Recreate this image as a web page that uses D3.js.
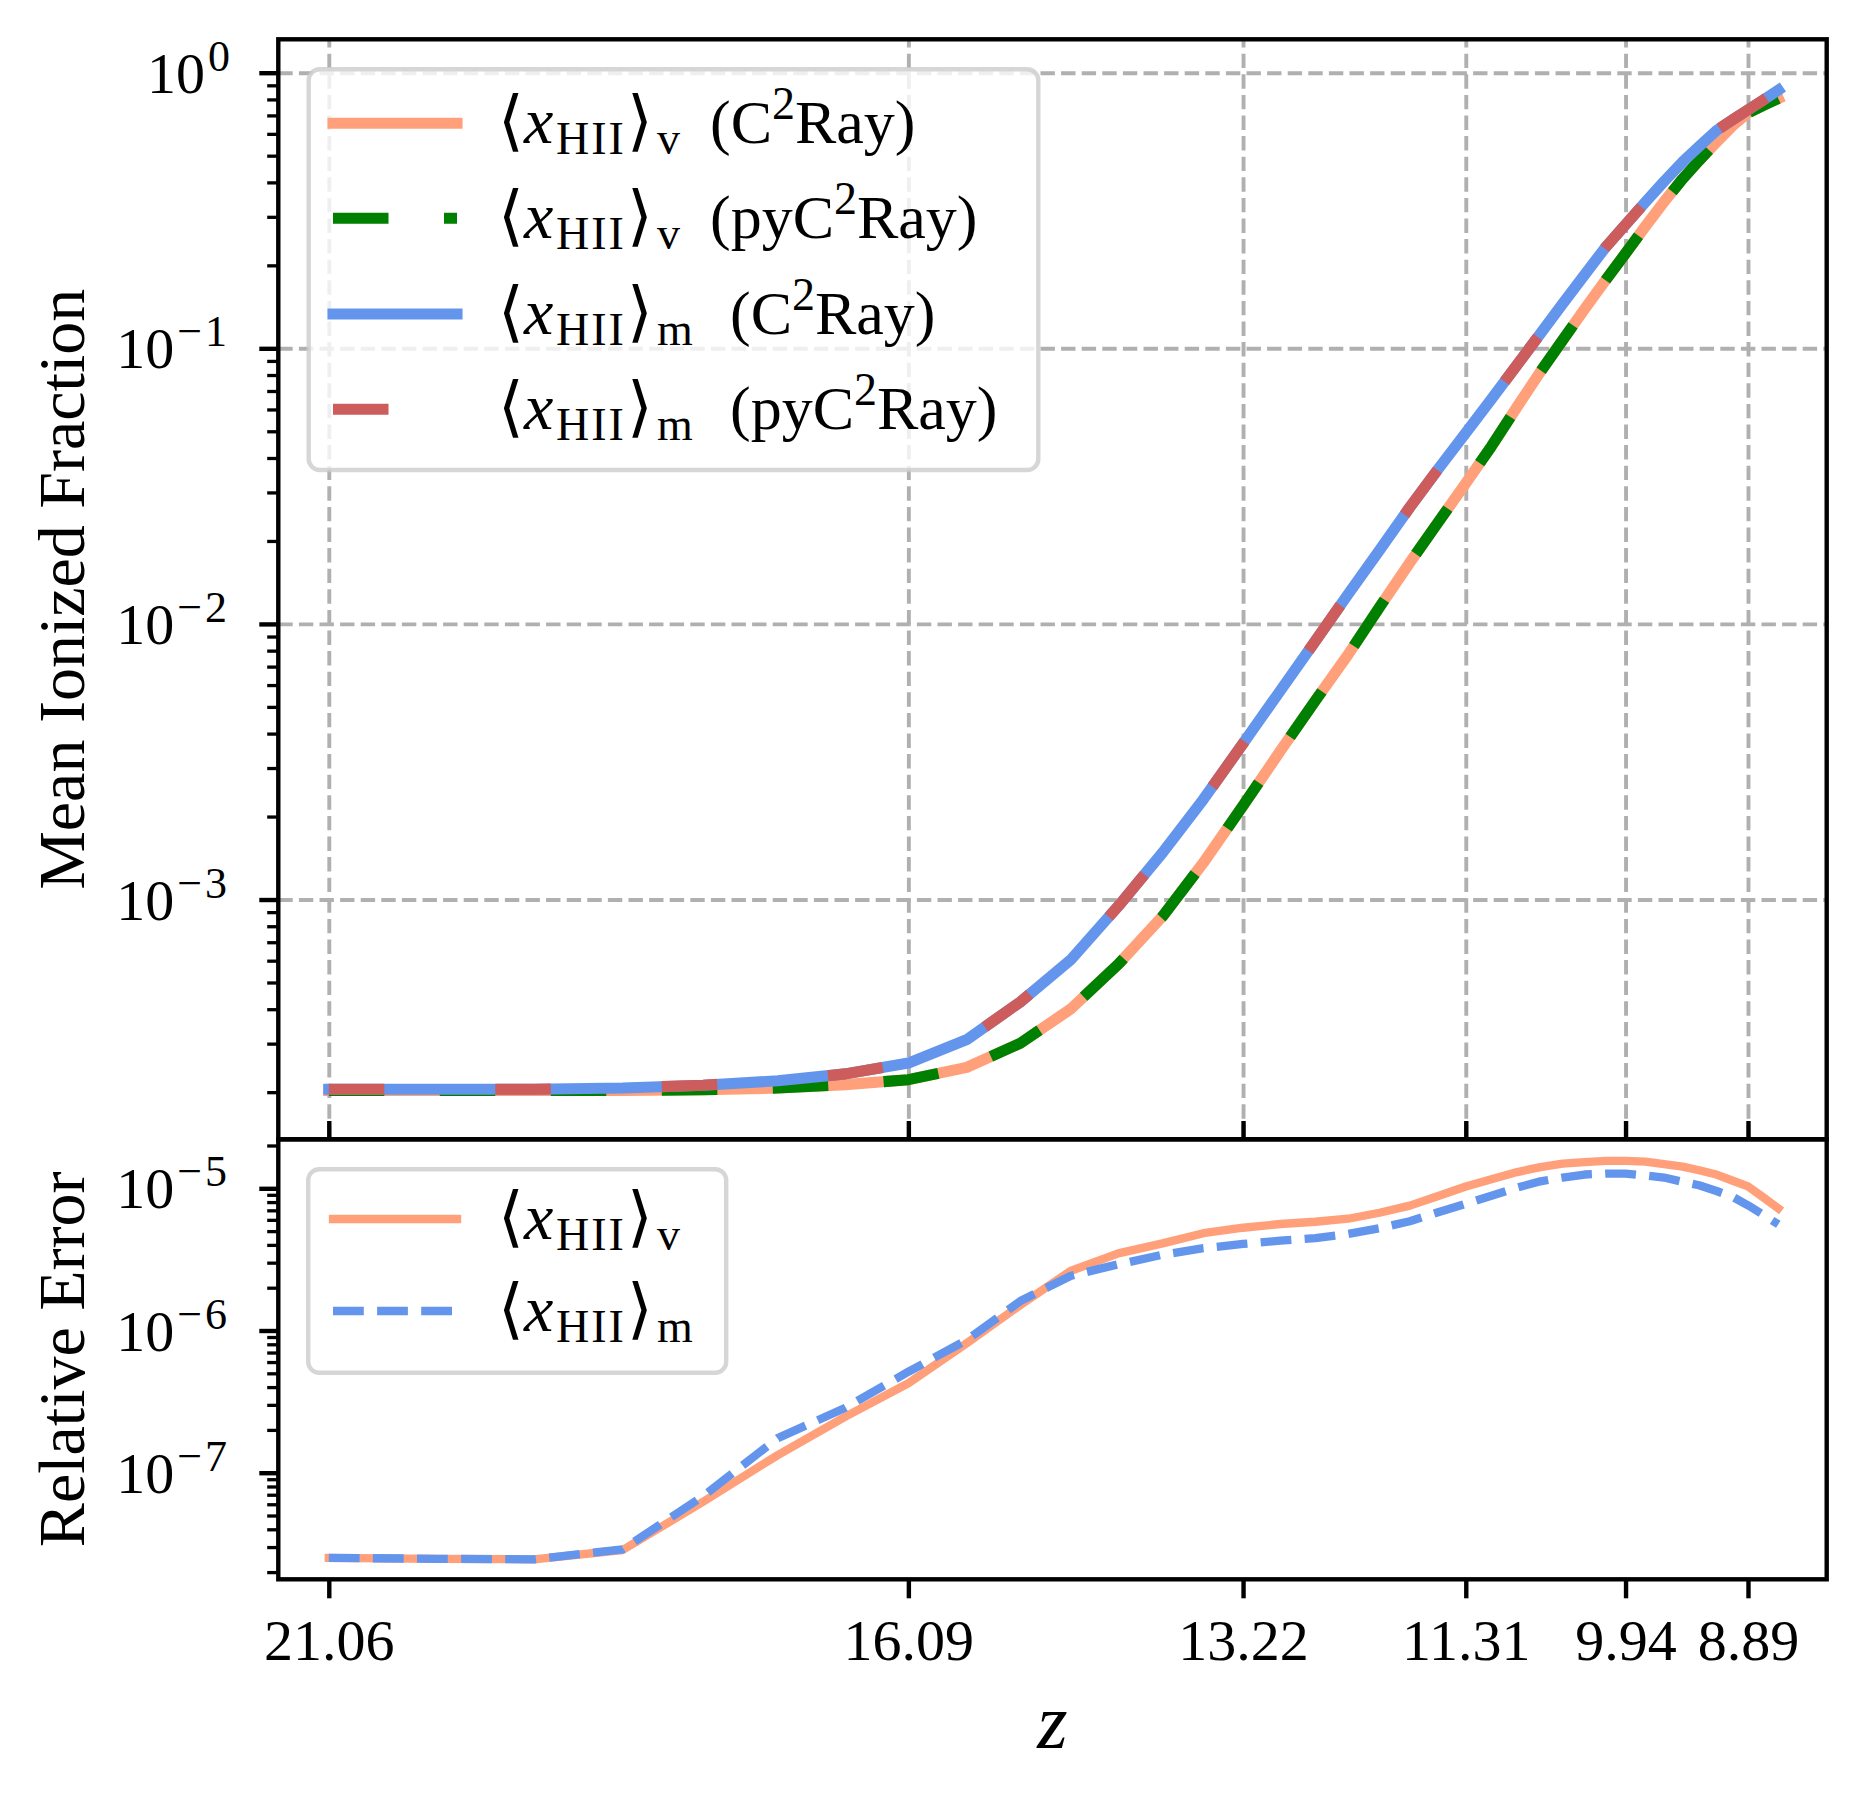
<!DOCTYPE html>
<html>
<head>
<meta charset="utf-8">
<script src="https://cdn.jsdelivr.net/npm/d3@7"></script>
<style>
	body { margin: 0; background: #fff; }
	text { font-family: "Liberation Serif", "DejaVu Serif", serif; fill: #000; white-space: pre; }
</style>
</head>
<body>
<svg id="chart" width="1868" height="1804"></svg>
<script>
// snapshot redshifts
const redshift = [21.06, 20.13, 19.30, 18.54, 17.85, 17.21, 16.63, 16.09, 15.59, 15.13,
	14.70, 14.29, 13.91, 13.56, 13.22, 12.90, 12.60, 12.32, 12.05, 11.79,
	11.54, 11.31, 11.09, 10.87, 10.67, 10.48, 10.29, 10.11, 9.94, 9.77,
	9.61, 9.45, 9.31, 9.16, 9.02, 8.89, 8.76, 8.63];

// volume weighted mean ionized fraction
const xvC2Ray = [2.03e-4, 2.03e-4, 2.03e-4, 2.03e-4, 2.04e-4, 2.07e-4, 2.13e-4, 2.22e-4, 2.46e-4, 3.01e-4,
	4.00e-4, 5.82e-4, 8.69e-4, 1.36e-3, 2.19e-3, 3.46e-3, 5.27e-3, 7.73e-3, 1.15e-2, 1.67e-2,
	2.36e-2, 3.24e-2, 4.41e-2, 6.13e-2, 8.22e-2, 0.107, 0.139, 0.177, 0.221, 0.277,
	0.340, 0.412, 0.480, 0.560, 0.643, 0.715, 0.761, 0.806];
const xvPyC2Ray = [2.03e-4, 2.03e-4, 2.03e-4, 2.03e-4, 2.04e-4, 2.07e-4, 2.13e-4, 2.22e-4, 2.46e-4, 3.01e-4,
	4.00e-4, 5.82e-4, 8.69e-4, 1.36e-3, 2.19e-3, 3.46e-3, 5.27e-3, 7.73e-3, 1.15e-2, 1.67e-2,
	2.36e-2, 3.24e-2, 4.41e-2, 6.13e-2, 8.22e-2, 0.107, 0.139, 0.177, 0.221, 0.277,
	0.340, 0.412, 0.480, 0.560, 0.643, 0.715, 0.761, 0.806];

// mass weighted mean ionized fraction
const xmC2Ray = [2.05e-4, 2.05e-4, 2.05e-4, 2.07e-4, 2.12e-4, 2.20e-4, 2.33e-4, 2.55e-4, 3.10e-4, 4.25e-4,
	6.03e-4, 9.46e-4, 1.48e-3, 2.31e-3, 3.68e-3, 5.73e-3, 8.67e-3, 1.28e-2, 1.85e-2, 2.65e-2,
	3.68e-2, 4.93e-2, 6.54e-2, 8.71e-2, 0.113, 0.145, 0.185, 0.233, 0.281, 0.339,
	0.403, 0.475, 0.540, 0.617, 0.676, 0.733, 0.795, 0.865];
const xmPyC2Ray = [2.05e-4, 2.05e-4, 2.05e-4, 2.07e-4, 2.12e-4, 2.20e-4, 2.33e-4, 2.55e-4, 3.10e-4, 4.25e-4,
	6.03e-4, 9.46e-4, 1.48e-3, 2.31e-3, 3.68e-3, 5.73e-3, 8.67e-3, 1.28e-2, 1.85e-2, 2.65e-2,
	3.68e-2, 4.93e-2, 6.54e-2, 8.71e-2, 0.113, 0.145, 0.185, 0.233, 0.281, 0.339,
	0.403, 0.475, 0.540, 0.617, 0.676, 0.733, 0.795, 0.865];

// relative error between the two codes
const relErrV = [2.52e-8, 2.48e-8, 2.46e-8, 2.86e-8, 6.25e-8, 1.33e-7, 2.48e-7, 4.26e-7, 8.13e-7, 1.51e-6,
	2.62e-6, 3.49e-6, 4.10e-6, 4.83e-6, 5.28e-6, 5.61e-6, 5.82e-6, 6.11e-6, 6.73e-6, 7.55e-6,
	8.87e-6, 1.03e-5, 1.16e-5, 1.30e-5, 1.41e-5, 1.49e-5, 1.53e-5, 1.56e-5, 1.56e-5, 1.54e-5,
	1.48e-5, 1.42e-5, 1.34e-5, 1.25e-5, 1.13e-5, 1.03e-5, 8.65e-6, 7.23e-6];
const relErrM = [2.52e-8, 2.48e-8, 2.46e-8, 2.89e-8, 6.85e-8, 1.75e-7, 2.86e-7, 5.13e-7, 8.57e-7, 1.61e-6,
	2.42e-6, 2.92e-6, 3.41e-6, 3.79e-6, 4.06e-6, 4.28e-6, 4.47e-6, 4.77e-6, 5.24e-6, 5.87e-6,
	6.81e-6, 7.79e-6, 8.87e-6, 1.01e-5, 1.12e-5, 1.19e-5, 1.25e-5, 1.27e-5, 1.27e-5, 1.23e-5,
	1.19e-5, 1.11e-5, 1.05e-5, 9.57e-6, 8.69e-6, 7.59e-6, 6.52e-6, 5.58e-6];

const zTicks		= [21.06, 16.09, 13.22, 11.31, 9.94, 8.89];
const topTicks		= [1e0, 1e-1, 1e-2, 1e-3];
const topTickExp	= ['0', '\u22121', '\u22122', '\u22123'];
const botTicks		= [1e-5, 1e-6, 1e-7];
const botTickExp	= ['\u22125', '\u22126', '\u22127'];

// layout
let pLeft = 278.3, pRight = 1826.7;
let pTop = 39.3, pMid = 1139.3, pBottom = 1579.3;
let fs = 58, fsSup = 44;
let fsLeg = 62, fsLegSmall = 46;

let svg = d3.select('#chart');

let x		= d3.scaleLinear().domain([21.493, 8.215]).range([pLeft, pRight]);
let yTop	= d3.scaleLog().domain([1.349e-4, 1.322]).range([pMid, pTop]);
let yBot	= d3.scaleLog().domain([1.78e-8, 2.211e-5]).range([pBottom, pMid]);

function minorTicks(scale) {
	let [lo, hi] = scale.domain();
	let out = [];
	for (let e = Math.floor(Math.log10(lo)); e <= Math.ceil(Math.log10(hi)); e++) {
		for (let k = 2; k <= 9; k++) {
			let v = k * Math.pow(10, e);
			if (v >= lo && v <= hi) out.push(v);
		}
	}
	return out;
}

function styleAxis(g, width, dash, color) {
	g.select('.domain').remove();
	g.selectAll('.tick line').attr('stroke', color || '#000').attr('stroke-width', width)
		.attr('stroke-dasharray', dash || null);
	g.selectAll('.tick text').remove();
}

// grid (top panel only)
svg.append('g').attr('transform', 'translate(0,' + pMid + ')')
	.call(d3.axisBottom(x).tickValues(zTicks).tickSize(-(pMid - pTop)).tickFormat(''))
	.call(styleAxis, 3.9, '14.4,6.2', '#b0b0b0');
svg.append('g').attr('transform', 'translate(' + pLeft + ',0)')
	.call(d3.axisLeft(yTop).tickValues(topTicks).tickSize(-(pRight - pLeft)).tickFormat(''))
	.call(styleAxis, 3.9, '14.4,6.2', '#b0b0b0');

// clip paths
let defs = svg.append('defs');
defs.append('clipPath').attr('id', 'clip-top').append('rect')
	.attr('x', pLeft).attr('y', pTop).attr('width', pRight - pLeft).attr('height', pMid - pTop);
defs.append('clipPath').attr('id', 'clip-bot').append('rect')
	.attr('x', pLeft).attr('y', pMid).attr('width', pRight - pLeft).attr('height', pBottom - pMid);

let lineTop = d3.line().x((o) => x(o[0])).y((o) => yTop(o[1]));
let lineBot = d3.line().x((o) => x(o[0])).y((o) => yBot(o[1]));

let topSeries = [
	{ data: xvC2Ray,	color: '#FFA07A', dash: null },
	{ data: xvPyC2Ray,	color: '#008000', dash: '55.5,55.5' },
	{ data: xmC2Ray,	color: '#6495ED', dash: null },
	{ data: xmPyC2Ray,	color: '#CD5C5C', dash: '55.5,111' }
];
let botSeries = [
	{ data: relErrV,	color: '#FFA07A', dash: null },
	{ data: relErrM,	color: '#6495ED', dash: '30.8,13.3' }
];

let topLines = svg.append('g').attr('clip-path', 'url(#clip-top)');
topSeries.forEach((s) => {
	topLines.append('path')
		.attr('d', lineTop(d3.zip(redshift, s.data)))
		.attr('fill', 'none')
		.attr('stroke', s.color)
		.attr('stroke-width', 11.1)
		.attr('stroke-linejoin', 'round')
		.attr('stroke-linecap', s.dash ? 'butt' : 'square')
		.attr('stroke-dasharray', s.dash);
});

let botLines = svg.append('g').attr('clip-path', 'url(#clip-bot)');
botSeries.forEach((s) => {
	botLines.append('path')
		.attr('d', lineBot(d3.zip(redshift, s.data)))
		.attr('fill', 'none')
		.attr('stroke', s.color)
		.attr('stroke-width', 8.33)
		.attr('stroke-linejoin', 'round')
		.attr('stroke-linecap', s.dash ? 'butt' : 'square')
		.attr('stroke-dasharray', s.dash);
});

// spines
[[pTop, pMid], [pMid, pBottom]].forEach(([a, b]) => {
	svg.append('rect')
		.attr('x', pLeft).attr('y', a)
		.attr('width', pRight - pLeft).attr('height', b - a)
		.attr('fill', 'none').attr('stroke', '#000').attr('stroke-width', 4.4);
});

// x ticks
svg.append('g').attr('transform', 'translate(0,' + pMid + ')')
	.call(d3.axisTop(x).tickValues(zTicks).tickSize(18.3).tickFormat(''))
	.call(styleAxis, 4.4);
let xAxis = svg.append('g').attr('transform', 'translate(0,' + pBottom + ')')
	.call(d3.axisBottom(x).tickValues(zTicks).tickSize(19).tickFormat(d3.format('.2f')));
xAxis.select('.domain').remove();
xAxis.selectAll('.tick line').attr('stroke', '#000').attr('stroke-width', 4.4);
xAxis.selectAll('.tick text')
	.attr('y', 80.7).attr('dy', null)
	.attr('font-size', fs)
	.attr('font-family', '"Liberation Serif", serif')
	.attr('fill', '#000');

// y ticks
function yTicks(scale, major, exps) {
	svg.append('g').attr('transform', 'translate(' + pLeft + ',0)')
		.call(d3.axisLeft(scale).tickValues(major).tickSize(19).tickFormat(''))
		.call(styleAxis, 4.4);
	svg.append('g').attr('transform', 'translate(' + pLeft + ',0)')
		.call(d3.axisLeft(scale).tickValues(minorTicks(scale)).tickSize(11.1).tickFormat(''))
		.call(styleAxis, 3.3);
	major.forEach((v, i) => {
		let t = svg.append('text')
			.attr('x', 230)
			.attr('y', scale(v) + 20)
			.attr('text-anchor', 'end')
			.attr('font-size', fs);
		t.append('tspan').text('10');
		t.append('tspan').attr('font-size', fsSup).attr('dx', 3).attr('dy', -22)
			.attr('letter-spacing', exps[i].length > 1 ? 3 : 0).text(exps[i]);
	});
}
yTicks(yTop, topTicks, topTickExp);
yTicks(yBot, botTicks, botTickExp);

// axis labels
svg.append('text')
	.attr('transform', 'translate(84,' + ((pTop + pMid) / 2) + ') rotate(-90)')
	.attr('text-anchor', 'middle').attr('font-size', 66)
	.text('Mean Ionized Fraction');
svg.append('text')
	.attr('transform', 'translate(84,' + ((pMid + pBottom) / 2) + ') rotate(-90)')
	.attr('text-anchor', 'middle').attr('font-size', 66)
	.text('Relative Error');
svg.append('text')
	.attr('x', (pLeft + pRight) / 2).attr('y', 1748)
	.attr('text-anchor', 'middle').attr('font-size', 78).attr('font-style', 'italic')
	.text('z');

// legends
function richText(sel, parts) {
	let shift = 0;
	parts.forEach(([txt, kind, px]) => {
		let target = kind === 'sub' ? 11 : (kind === 'sup' ? -24 : 0);
		let ts = sel.append('tspan').attr('dy', target - shift).text(txt);
		if (px !== undefined) ts.attr('x', px);
		if (kind === 'sub' || kind === 'sup') ts.attr('font-size', fsLegSmall);
		if (kind === 'sub') ts.attr('letter-spacing', 2);
		if (kind === 'i') ts.attr('font-style', 'italic').attr('font-size', fsLeg + 4);
		if (kind === 'br') ts.attr('font-size', fsLeg + 4);
		shift = target;
	});
}

function labelParts(w, code) {
	let parts = [['\u27E8', 'br', 498], ['x', 'i', 524], ['HII', 'sub', 556], ['\u27E9', 'br', 627], [w, 'sub', 657]];
	if (code !== undefined) {
		parts.push(['(' + code + 'C', 'n', w === 'm' ? 730 : 710], ['2', 'sup'], ['Ray)', 'n']);
	}
	return parts;
}

function legend(box, entries, rowY, lw) {
	let g = svg.append('g');
	g.append('rect')
		.attr('x', box[0]).attr('y', box[1])
		.attr('width', box[2] - box[0]).attr('height', box[3] - box[1])
		.attr('rx', 11).attr('ry', 11)
		.attr('fill', '#fff').attr('fill-opacity', 0.8)
		.attr('stroke', '#cccccc').attr('stroke-opacity', 0.8).attr('stroke-width', 4.4);
	entries.forEach((e, i) => {
		let yy = rowY[i];
		g.append('line')
			.attr('x1', 333).attr('x2', 457)
			.attr('y1', yy).attr('y2', yy)
			.attr('stroke', e.color).attr('stroke-width', lw)
			.attr('stroke-linecap', e.dash ? 'butt' : 'square')
			.attr('stroke-dasharray', e.dash);
		let t = g.append('text')
			.attr('x', 498).attr('y', yy + 20)
			.attr('font-size', fsLeg);
		richText(t, e.parts);
	});
}

legend([308.7, 69.3, 1038.3, 470], [
	{ color: '#FFA07A', dash: null,			parts: labelParts('v', '') },
	{ color: '#008000', dash: '55.5,55.5',	parts: labelParts('v', 'py') },
	{ color: '#6495ED', dash: null,			parts: labelParts('m', '') },
	{ color: '#CD5C5C', dash: '55.5,111',	parts: labelParts('m', 'py') }
], [123.3, 218.3, 314, 409.3], 11.1);

legend([308.2, 1169.3, 726.2, 1372.7], [
	{ color: '#FFA07A', dash: null,			parts: labelParts('v') },
	{ color: '#6495ED', dash: '30.8,13.3',	parts: labelParts('m') }
], [1219, 1311], 8.33);
</script>
</body>
</html>
